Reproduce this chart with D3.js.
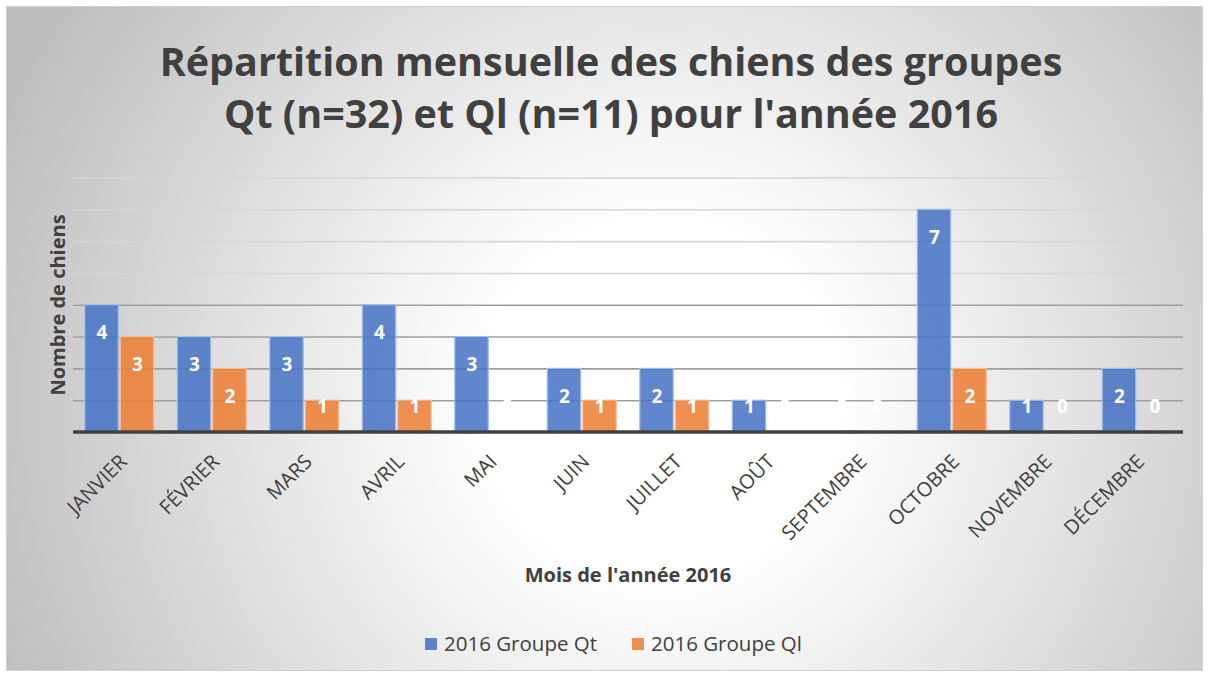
<!DOCTYPE html>
<html>
<head>
<meta charset="utf-8">
<script src="https://cdn.jsdelivr.net/npm/d3@7"></script>
<style>
  body { margin: 0; background: #fff; }
  text { font-family: "Open Sans", "Noto Sans", sans-serif; }
</style>
</head>
<body>
<div id="chart"></div>
<script>
// data
const months = ["JANVIER", "FÉVRIER", "MARS", "AVRIL", "MAI", "JUIN", "JUILLET", "AOÛT", "SEPTEMBRE", "OCTOBRE", "NOVEMBRE", "DÉCEMBRE"];
const seriesNames = ["2016 Groupe Qt", "2016 Groupe Ql"];
const qtValues = [4, 3, 3, 4, 3, 2, 2, 1, 0, 7, 1, 2];
const qlValues = [3, 2, 1, 1, 0, 1, 1, 0, 0, 2, 0, 0];
const yTicks = [1, 2, 3, 4, 5, 6, 7, 8];
const titleLines = ["Répartition mensuelle des chiens des groupes", "Qt (n=32) et Ql (n=11) pour l'année 2016"];

const W = 1209, H = 677;
const colors = ["#4472C4", "#ED7D31"];
const strokes = ["#a9bfe6", "#f5c09c"];

const svg = d3.select("#chart").append("svg")
  .attr("width", W).attr("height", H);

// background gradient like the office chart
const defs = svg.append("defs");
const grad = defs.append("radialGradient")
  .attr("id", "bg")
  .attr("gradientUnits", "userSpaceOnUse")
  .attr("cx", 660).attr("cy", 400).attr("r", 720);
grad.append("stop").attr("offset", 0).attr("stop-color", "#ffffff");
grad.append("stop").attr("offset", 0.25).attr("stop-color", "#ffffff");
grad.append("stop").attr("offset", 1).attr("stop-color", "#bdbdbd");

svg.append("rect")
  .attr("x", 6.5).attr("y", 6.5)
  .attr("width", W - 13).attr("height", H - 13)
  .attr("fill", "url(#bg)")
  .attr("stroke", "#d0d0d0");

// title
const title = svg.append("text")
  .attr("text-anchor", "middle")
  .attr("font-weight", "bold")
  .attr("font-size", 39.5)
  .attr("fill", "#404040");
title.selectAll("tspan").data(titleLines).enter().append("tspan")
  .attr("x", 611)
  .attr("y", (d, i) => 76 + i * 52)
  .text(d => d);

const margin = { left: 73, right: 1183, top: 177.5, bottom: 432 };

const x = d3.scaleBand()
  .domain(months)
  .range([margin.left, margin.right])
  .paddingInner(0.254)
  .paddingOuter(0.127);

const xSub = d3.scaleBand()
  .domain([0, 1])
  .range([0, x.bandwidth()])
  .padding(0);

const y = d3.scaleLinear()
  .domain([0, 8])
  .range([margin.bottom, margin.top]);

// gridlines
const grid = svg.append("g")
  .attr("transform", `translate(${margin.left},0)`)
  .call(d3.axisLeft(y).tickValues(yTicks).tickSize(-(margin.right - margin.left)).tickFormat(""));
grid.select(".domain").remove();
grid.selectAll(".tick line")
  .attr("stroke", d => d <= 4 ? "#9f9f9f" : "#d6d6d6")
  .attr("stroke-width", 1.6);

// bars
const groups = svg.append("g").selectAll("g")
  .data(months).enter().append("g")
  .attr("transform", d => `translate(${x(d)},0)`);

const seriesData = [qtValues, qlValues];
groups.selectAll("rect")
  .data((d, i) => seriesData.map((s, k) => ({ k: k, v: s[i] })))
  .enter().append("rect")
  .attr("x", d => xSub(d.k) + (d.k === 0 ? 0 : 1))
  .attr("width", xSub.bandwidth() - 1)
  .attr("y", d => y(d.v))
  .attr("height", d => y(0) - y(d.v))
  .attr("fill", d => colors[d.k])
  .attr("fill-opacity", 0.85)
  .attr("stroke", d => strokes[d.k])
  .attr("stroke-width", d => d.v > 0 ? 1.2 : 0);

// value labels (inside end)
groups.selectAll("text.val")
  .data((d, i) => seriesData.map((s, k) => ({ k: k, v: s[i] })))
  .enter().append("text")
  .attr("class", "val")
  .attr("x", d => xSub(d.k) + xSub.bandwidth() / 2 + (d.k === 0 ? 0 : 1))
  .attr("y", d => Math.min(y(d.v) + 28, 406))
  .attr("dy", "0.35em")
  .attr("text-anchor", "middle")
  .attr("font-weight", "bold")
  .attr("font-size", 19)
  .attr("fill", "#ffffff")
  .text(d => d.v);

// x axis
const xAxis = svg.append("g")
  .attr("transform", `translate(0,${margin.bottom})`)
  .call(d3.axisBottom(x).tickSize(0).tickPadding(0));
xAxis.select(".domain").attr("stroke", "#404040").attr("stroke-width", 3.5)
  .attr("d", `M${margin.left},0H${margin.right}`);
xAxis.selectAll(".tick text")
  .attr("font-size", 20)
  .attr("fill", "#404040")
  .attr("text-anchor", "end")
  .attr("transform", "translate(4,26) rotate(-45)")
  .attr("dy", "0.35em")
  .attr("y", 0);

// axis titles
svg.append("text")
  .attr("transform", "translate(65,305) rotate(-90)")
  .attr("text-anchor", "middle")
  .attr("font-weight", "bold")
  .attr("font-size", 20)
  .attr("fill", "#404040")
  .text("Nombre de chiens");

svg.append("text")
  .attr("x", (margin.left + margin.right) / 2)
  .attr("y", 582)
  .attr("text-anchor", "middle")
  .attr("font-weight", "bold")
  .attr("font-size", 20)
  .attr("fill", "#404040")
  .text("Mois de l'année 2016");

// legend
const legendX = [425, 632];
const legend = svg.append("g").selectAll("g")
  .data(seriesNames).enter().append("g")
  .attr("transform", (d, i) => `translate(${legendX[i]},638)`);
legend.append("rect")
  .attr("width", 12).attr("height", 12)
  .attr("fill", (d, i) => colors[i])
  .attr("fill-opacity", 0.85);
legend.append("text")
  .attr("x", 19).attr("y", 6)
  .attr("dy", "0.35em")
  .attr("font-size", 20.5)
  .attr("fill", "#404040")
  .text(d => d);
</script>
</body>
</html>
